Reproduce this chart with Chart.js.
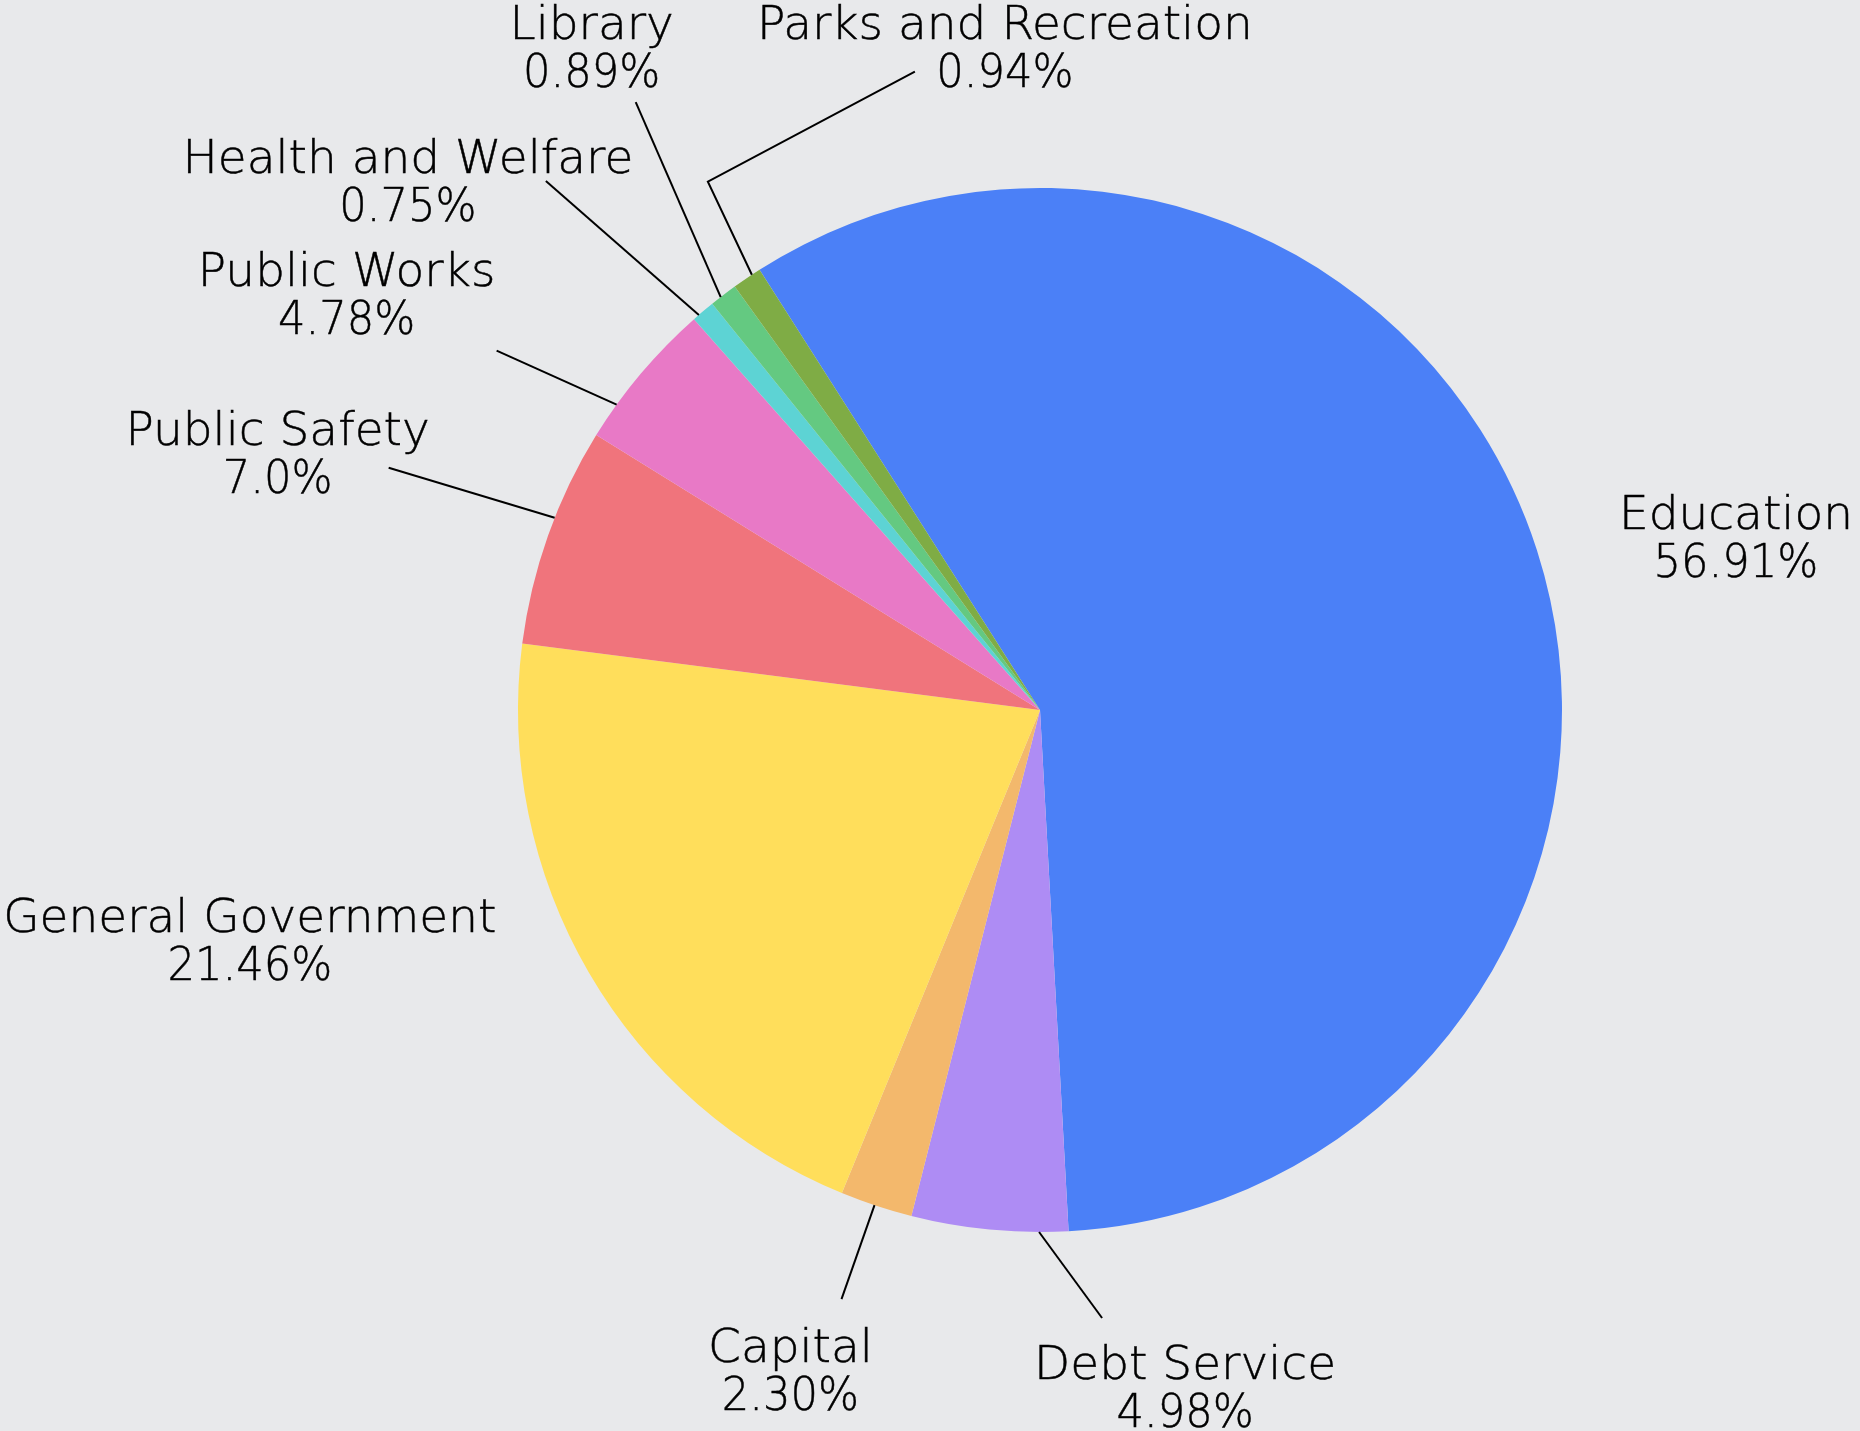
<!DOCTYPE html>
<html>
<head>
<meta charset="utf-8">
<script src="https://cdn.jsdelivr.net/npm/chart.js@4.4.1/dist/chart.umd.min.js"></script>
<style>
  html, body { margin: 0; padding: 0; background: #e8e9eb; }
  #wrap { width: 1860px; height: 1431px; position: relative; }
</style>
</head>
<body>
<div id="wrap"><canvas id="c"></canvas></div>
<script>
// ---- data ----
const categories = ["Education", "Debt Service", "Capital", "General Government", "Public Safety",
  "Public Works", "Health and Welfare", "Library", "Parks and Recreation"];
const values = [59.9, 4.98, 2.30, 21.46, 7.0, 4.78, 0.75, 0.89, 0.94];
const percentLabels = ["56.91%", "4.98%", "2.30%", "21.46%", "7.0%", "4.78%", "0.75%", "0.89%", "0.94%"];

// ---- style ----
const colors = ["#4b80f7", "#ae8cf4", "#f3b86c", "#ffde5b", "#f0747c", "#e879c6", "#5dd3d4", "#64c981", "#7fac45"];
const FONT_SIZE = 47;
const LINE_GAP = 48;
const FONT = "200 " + FONT_SIZE + "px 'DejaVu Sans', 'Noto Sans', sans-serif";
const TEXT_COLOR = "#000000";
const PCT_STRETCH = 0.92;

// label placement: nudge (deg) of leader start along the arc, leader path offsets, text offset
const labelLayout = [
  { nudge: 0,     path: [],                               text: [199, -21] },
  { nudge: -5.46, path: [[63, 86]],                       text: [146, 147] },
  { nudge: 0.2,   path: [[-33, 94]],                      text: [-84, 157] },
  { nudge: 0,     path: [],                               text: [-339, -41] },
  { nudge: 2.06,  path: [[-166, -50]],                    text: [-277, -73] },
  { nudge: -4.33, path: [[-120, -54]],                    text: [-270, -119] },
  { nudge: -0.6,  path: [[-153, -134]],                   text: [-291, -142] },
  { nudge: -0.37, path: [[-85, -195]],                    text: [-129, -258] },
  { nudge: 0.64,  path: [[-44, -93], [163, -203]],        text: [253, -236] }
];

function drawText(ctx, t, x, y, sx) {
  ctx.save();
  ctx.translate(x, y);
  ctx.scale(sx, 1);
  ctx.fillText(t, 0, 0);
  ctx.lineWidth = 0.5;
  ctx.strokeText(t, 0, 0);
  ctx.restore();
}

const pieLabels = {
  id: 'pieLabels',
  afterDatasetsDraw(chart) {
    const ctx = chart.ctx;
    const meta = chart.getDatasetMeta(0);
    ctx.save();
    ctx.font = FONT;
    ctx.fillStyle = TEXT_COLOR;
    ctx.strokeStyle = TEXT_COLOR;
    ctx.textAlign = 'center';
    ctx.textBaseline = 'alphabetic';
    meta.data.forEach((arc, i) => {
      const p = arc.getProps(['x', 'y', 'startAngle', 'endAngle', 'outerRadius'], true);
      const L = labelLayout[i];
      const a = (p.startAngle + p.endAngle) / 2 + L.nudge * Math.PI / 180;
      const sx = p.x + p.outerRadius * Math.cos(a);
      const sy = p.y + p.outerRadius * Math.sin(a);
      if (L.path.length) {
        ctx.lineWidth = 2;
        ctx.beginPath();
        ctx.moveTo(sx, sy);
        L.path.forEach(([dx, dy]) => ctx.lineTo(sx + dx, sy + dy));
        ctx.stroke();
      }
      const tx = sx + L.text[0], ty = sy + L.text[1];
      drawText(ctx, categories[i], tx, ty, 1);
      drawText(ctx, percentLabels[i], tx, ty + LINE_GAP, PCT_STRETCH);
    });
    ctx.restore();
  }
};

new Chart(document.getElementById('c'), {
  type: 'pie',
  data: {
    labels: categories,
    datasets: [{
      data: values,
      backgroundColor: colors,
      borderWidth: 0,
      hoverOffset: 0,
      offset: 0
    }]
  },
  options: {
    responsive: true,
    maintainAspectRatio: false,
    animation: false,
    events: [],
    rotation: -32.5,
    layout: { padding: { left: 518, top: 188, right: 298, bottom: 199 } },
    plugins: { legend: { display: false }, tooltip: { enabled: false } }
  },
  plugins: [pieLabels]
});
</script>
</body>
</html>
